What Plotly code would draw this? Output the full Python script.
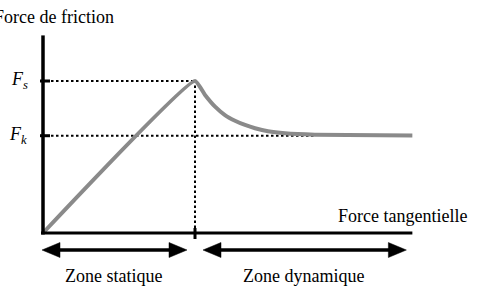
import plotly.graph_objects as go

# ---- data ----
force_tangentielle_statique = [0.0, 1.0]
force_friction_statique = [0.0, 1.0]
force_tangentielle_dynamique = [1.000, 1.066, 1.132, 1.197, 1.263, 1.329, 1.395,
                                1.480, 1.592, 1.789, 2.430]
force_friction_dynamique = [1.000, 0.908, 0.831, 0.776, 0.739, 0.711, 0.689,
                            0.669, 0.656, 0.647, 0.641]
F_s = 1.0
F_k = 0.640
niveaux = [F_s, F_k]
etiquettes_niveaux = ["<i>F<sub>s</sub></i>", "<i>F<sub>k</sub></i>"]
titre_y = "Force de friction"
titre_x = "Force tangentielle"
zones = ["Zone statique", "Zone dynamique"]

# ---- geometry helpers ----
W, H = 486, 294
SCALE = 152.0          # pixels per data unit
ORIG_X, ORIG_Y = 43, 233
PX = 1.0 / SCALE
X_MAX = max(force_tangentielle_dynamique)
Y_TOP = 1.30
x_pic = force_tangentielle_statique[-1]
SERIF = "Liberation Serif"


def P(xp, yp):
    return (xp - ORIG_X) * PX, (ORIG_Y - yp) * PX


fig = go.Figure()

fig.add_trace(go.Scatter(
    x=force_tangentielle_statique + force_tangentielle_dynamique[1:],
    y=force_friction_statique + force_friction_dynamique[1:],
    mode="lines", line=dict(color="#8a8a8a", width=4, shape="spline", smoothing=0.4),
    hoverinfo="skip", showlegend=False))

shapes = []
black = "black"
# axes
shapes.append(dict(type="line", x0=0, x1=0, y0=-1.5 * PX, y1=Y_TOP,
                   line=dict(color=black, width=3.5), layer="above"))
shapes.append(dict(type="line", x0=-2 * PX, x1=X_MAX, y0=0, y1=0,
                   line=dict(color=black, width=3), layer="above"))
# ticks on y axis
for v in niveaux:
    shapes.append(dict(type="line", x0=-3 * PX, x1=7 * PX, y0=v, y1=v,
                       line=dict(color=black, width=3), layer="above"))
# tick at peak on x axis
shapes.append(dict(type="line", x0=x_pic, x1=x_pic, y0=-6 * PX, y1=5 * PX,
                   line=dict(color=black, width=3), layer="above"))
# dotted guides
dot = "2.5px,2.5px"
shapes.append(dict(type="line", x0=8 * PX, x1=x_pic, y0=F_s, y1=F_s,
                   line=dict(color=black, width=2, dash=dot), layer="below"))
shapes.append(dict(type="line", x0=8 * PX, x1=force_tangentielle_dynamique[-2], y0=F_k, y1=F_k,
                   line=dict(color=black, width=2, dash=dot), layer="below"))
shapes.append(dict(type="line", x0=x_pic, x1=x_pic, y0=0, y1=F_s,
                   line=dict(color=black, width=2, dash=dot), layer="below"))

# zone arrows
ya = -17 * PX
hl, hh = 18 * PX, 7.5 * PX
gap = 8 * PX


def arrow(x0, x1):
    a = x0 + hl
    b = x1 - hl
    shapes.append(dict(type="line", x0=a - PX, x1=b + PX, y0=ya, y1=ya,
                       line=dict(color=black, width=3.5), layer="above"))
    shapes.append(dict(type="path",
                       path=f"M{x0},{ya} L{x0 + hl},{ya + hh} L{x0 + hl},{ya - hh} Z",
                       fillcolor=black, line=dict(color=black, width=0.5), layer="above"))
    shapes.append(dict(type="path",
                       path=f"M{x1},{ya} L{x1 - hl},{ya + hh} L{x1 - hl},{ya - hh} Z",
                       fillcolor=black, line=dict(color=black, width=0.5), layer="above"))


arrow(-1 * PX, x_pic - gap)
arrow(x_pic + gap, X_MAX - 6 * PX)
fig.update_layout(shapes=shapes)

ann = []


def txt(t, xp, yp, size=18):
    x, y = P(xp, yp)
    ann.append(dict(text=t, x=x, y=y, xref="x", yref="y", showarrow=False,
                    xanchor="center", yanchor="middle",
                    font=dict(family=SERIF, size=size, color="black")))


txt(titre_y, 54, 17)
txt(titre_x, 402, 216)
txt(zones[0], 113.5, 276)
txt(zones[1], 303, 276)
txt(etiquettes_niveaux[0], 19, 80, 18)
txt(etiquettes_niveaux[1], 18, 135, 18)
fig.update_layout(annotations=ann, font=dict(family=SERIF, size=18, color="black"))

x0r, _ = P(0, 0)
x1r, _ = P(W, 0)
_, y0r = P(0, H)
_, y1r = P(0, 0)
fig.update_layout(
    width=W, height=H, margin=dict(l=0, r=0, t=0, b=0),
    paper_bgcolor="white", plot_bgcolor="white",
    xaxis=dict(range=[x0r, x1r], visible=False, fixedrange=True),
    yaxis=dict(range=[y0r, y1r], visible=False, fixedrange=True),
    showlegend=False,
)
fig.write_html("out.html", config={"displayModeBar": False})
